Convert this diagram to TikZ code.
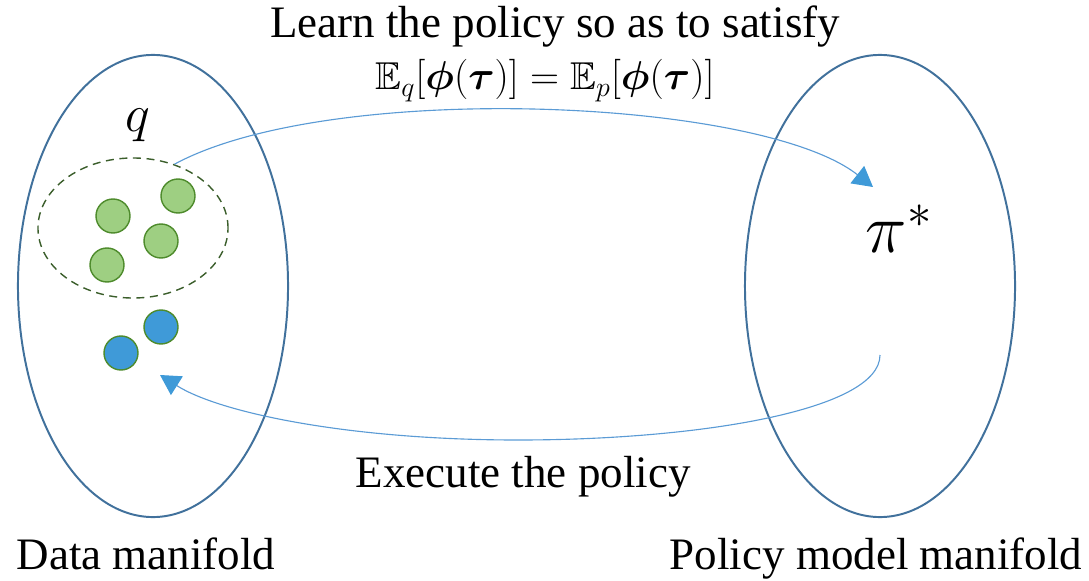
\documentclass[tikz,border=0pt]{standalone}
\usepackage{amsmath}
\usepackage{amssymb}
\usepackage{bm}
\usepackage{fontspec}
\setmainfont{Liberation Serif}
\usepackage{tikz}
\usetikzlibrary{arrows.meta,shapes.geometric}
\definecolor{mfblue}{HTML}{41719C}
\definecolor{arcblue}{HTML}{5B9BD5}
\definecolor{tipblue}{HTML}{3F9AD8}
\definecolor{ptgreen}{HTML}{9ECF82}
\definecolor{ptedge}{HTML}{4E8B2C}
\definecolor{setgreen}{HTML}{3B5E2B}
\tikzstyle{manifold} = [draw=mfblue, line width=1.4pt, ellipse, inner sep=0pt, minimum width=6.75cm, minimum height=11.55cm]
\tikzstyle{sample} = [draw=ptedge, line width=1pt, circle, inner sep=0pt, minimum size=0.85cm]
\tikzstyle{flow} = [draw=arcblue, line width=0.8pt, -{Triangle[length=0.5cm,width=0.55cm,color=tipblue]}]
\tikzstyle{label} = [font=\fontsize{32}{36}\selectfont, anchor=base, inner sep=0pt]
\tikzstyle{bigmath} = [font=\fontsize{20}{24}\selectfont, anchor=base, inner sep=0pt, transform shape]

\begin{document}
\begin{tikzpicture}[x=0.025cm,y=0.025cm]
    \useasboundingbox (0,0) rectangle (1089,580);
    % the two manifolds
    \node[manifold] (datamf) at (153,294) {};
    \node[manifold] (policymf) at (880,294) {};
    \node[label] (datalbl) at (146,11) {Data manifold};
    \node[label] (policylbl) at (876,11) {Policy model manifold};
    % demonstrations q
    \node[draw=setgreen, line width=1pt, dash pattern=on 0.2cm off 0.14cm, ellipse,
        inner sep=0pt, minimum width=4.75cm, minimum height=3.5cm] (qset) at (133,352) {};
    \node[bigmath, scale=1.8] (qname) at (138,448) {$q$};
    \node[sample, fill=ptgreen] (g1) at (113,364) {};
    \node[sample, fill=ptgreen] (g2) at (178,384) {};
    \node[sample, fill=ptgreen] (g3) at (161,339) {};
    \node[sample, fill=ptgreen] (g4) at (107,315) {};
    % rollouts
    \node[sample, fill=tipblue] (b1) at (161,253) {};
    \node[sample, fill=tipblue] (b2) at (121,227) {};
    % learned policy
    \node[bigmath, scale=2.4, anchor=base west] (pistar) at (865,327) {$\pi^*$};
    \coordinate (pin) at (873,393);
    \coordinate (pout) at (880,225);
    \coordinate (bin) at (160,205);
    \draw[flow] (qset.57) .. controls (330,500) and (760,482) .. (pin);
    \draw[flow] (pout) .. controls (880,170) and (700,140) .. (518,140)
        .. controls (350,140) and (220,167) .. (bin);
    \node[label] (learn) at (555,542) {Learn the policy so as to satisfy};
    \node[bigmath, scale=1.38] (moment) at (545,490)
        {$\mathbb{E}_q[\bm{\phi}(\bm{\tau})]=\mathbb{E}_p[\bm{\phi}(\bm{\tau})]$};
    \node[label] (exec) at (523,93) {Execute the policy};
\end{tikzpicture}
\end{document}
